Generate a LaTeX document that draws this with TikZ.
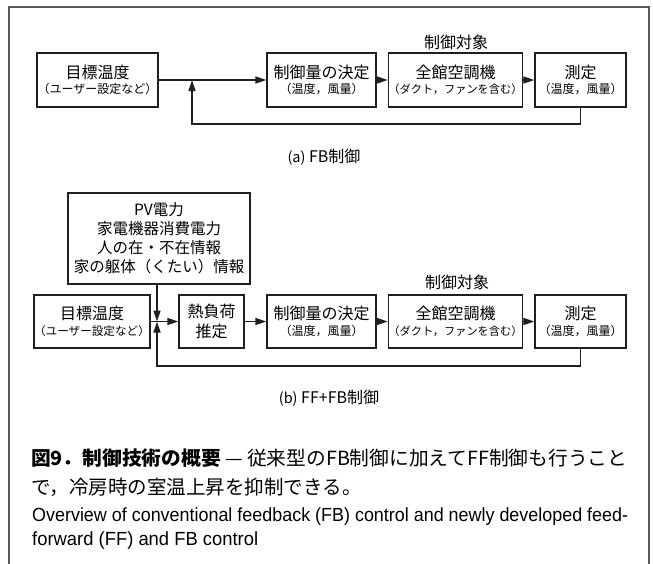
\documentclass[tikz,border=0pt]{standalone}
\usepackage{fontspec}
\usepackage{graphicx}
\setmainfont{Noto Sans CJK JP}
\newfontfamily\enfont{Liberation Sans}
\usetikzlibrary{arrows.meta}
\newcommand\mainfs{\fontsize{16}{19}\selectfont}
\newcommand\subfs{\fontsize{12}{13}\selectfont}
\newcommand\ductfs{\fontsize{11.2}{13}\selectfont}
\begin{document}
\begin{tikzpicture}[x=1pt,y=-1pt,
  box/.style={draw=black!88, line width=1.4pt, inner sep=0pt, align=center,
    minimum height=54pt, font={\fontsize{16}{15.5}\selectfont\lineskiplimit=-50pt}},
  lbl/.style={inner sep=0pt, font=\mainfs},
  con/.style={line width=1.3pt, draw=black!88},
  arr/.style={con, -{Triangle[length=11pt,width=7pt]}},
  frame/.style={line width=1.2pt, draw=black!65}]
\fill[white] (0,0) rectangle (653,563);
\useasboundingbox (0,0) rectangle (653,563);
\draw[frame] (9,570) -- (9,7) -- (649,7) -- (649,570);

% ---------- (a) ----------
\node[lbl] (ta) at (456,42) {制御対象};
\node[box, minimum width=121pt] (a1) at (97.5,80) {{\mainfs 目標温度}\\{\subfs （ユーザー設定など）}};
\node[box, minimum width=109pt] (a2) at (321.5,80) {{\mainfs 制御量の決定}\\{\subfs （温度，風量）}};
\node[box, minimum width=115pt] (a3) at (455.5,80) {{\mainfs 全館空調機}\\{\ductfs （ダクト，ファンを含む）}};
\node[box, minimum width=91pt] (a4) at (580.5,80) {{\mainfs 測定}\\{\subfs （温度，風量）}};
\coordinate (ja) at (192,80);
\coordinate (fa) at (192,124);
\draw[arr] (a1.east) -- (a2.west);
\draw[arr] (a2.east) -- (a3.west);
\draw[arr] (a3.east) -- (a4.west);
\draw[arr] (a4.south) |- (fa) -- (ja);
\node[lbl] (capa) at (324,157) {{\fontsize{14.5}{14}\selectfont (a)} FB制御};

% ---------- (b) ----------
\node[box, minimum width=182pt, minimum height=91pt,
  font={\fontsize{15.5}{19}\selectfont\lineskiplimit=-50pt}] (pv) at (159,238.5)
  {PV電力\\家電機器消費電力\\人の在・不在情報\\家の躯体（くたい）情報};
\node[lbl] (tb) at (457,282) {制御対象};
\node[box, minimum width=110pt, minimum height=53pt] (b1) at (92,321.5) {{\mainfs 目標温度}\\{\fontsize{11.6}{13}\selectfont （ユーザー設定など）}};
\node[box, minimum width=65pt, minimum height=53pt,
  font={\fontsize{16}{20}\selectfont\lineskiplimit=-50pt}] (bh) at (211.5,321.5) {熱負荷\\推定};
\node[box, minimum width=109pt, minimum height=53pt] (b2) at (321.5,321.5) {{\mainfs 制御量の決定}\\{\subfs （温度，風量）}};
\node[box, minimum width=115pt, minimum height=53pt] (b3) at (455.5,321.5) {{\mainfs 全館空調機}\\{\ductfs （ダクト，ファンを含む）}};
\node[box, minimum width=91pt, minimum height=53pt] (b4) at (580.5,321.5) {{\mainfs 測定}\\{\subfs （温度，風量）}};
\coordinate (jb) at (157,321.5);
\coordinate (fb) at (157,366);
\draw[arr] (b1.east) -- (bh.west);
\draw[arr] (bh.east) -- (b2.west);
\draw[arr] (b2.east) -- (b3.west);
\draw[arr] (b3.east) -- (b4.west);
\draw[arr] (pv.south -| jb) -- (jb);
\draw[arr] (b4.south) |- (fb) -- (jb);
\node[lbl] (capb) at (329,398) {{\fontsize{14.5}{14}\selectfont (b)} FF+FB制御};

% ---------- caption ----------
\node[anchor=west, inner sep=0pt] (c1) at (31,458)
  {\resizebox{596pt}{\height}{\fontsize{19.5}{20}\selectfont\textbf{図9．制御技術の概要} — 従来型のFB制御に加えてFF制御も行うこと}};
\node[anchor=west, inner sep=0pt] (c2) at (31,487)
  {\fontsize{19.5}{20}\selectfont で，冷房時の室温上昇を抑制できる。};
\node[anchor=west, inner sep=0pt] (e1) at (32,517)
  {\resizebox{596pt}{\height}{\enfont\fontsize{19}{20}\selectfont Overview of conventional feedback (FB) control and newly developed feed-}};
\node[anchor=west, inner sep=0pt] (e2) at (32,541)
  {\resizebox{226pt}{\height}{\enfont\fontsize{19}{20}\selectfont forward (FF) and FB control}};
\end{tikzpicture}
\end{document}
